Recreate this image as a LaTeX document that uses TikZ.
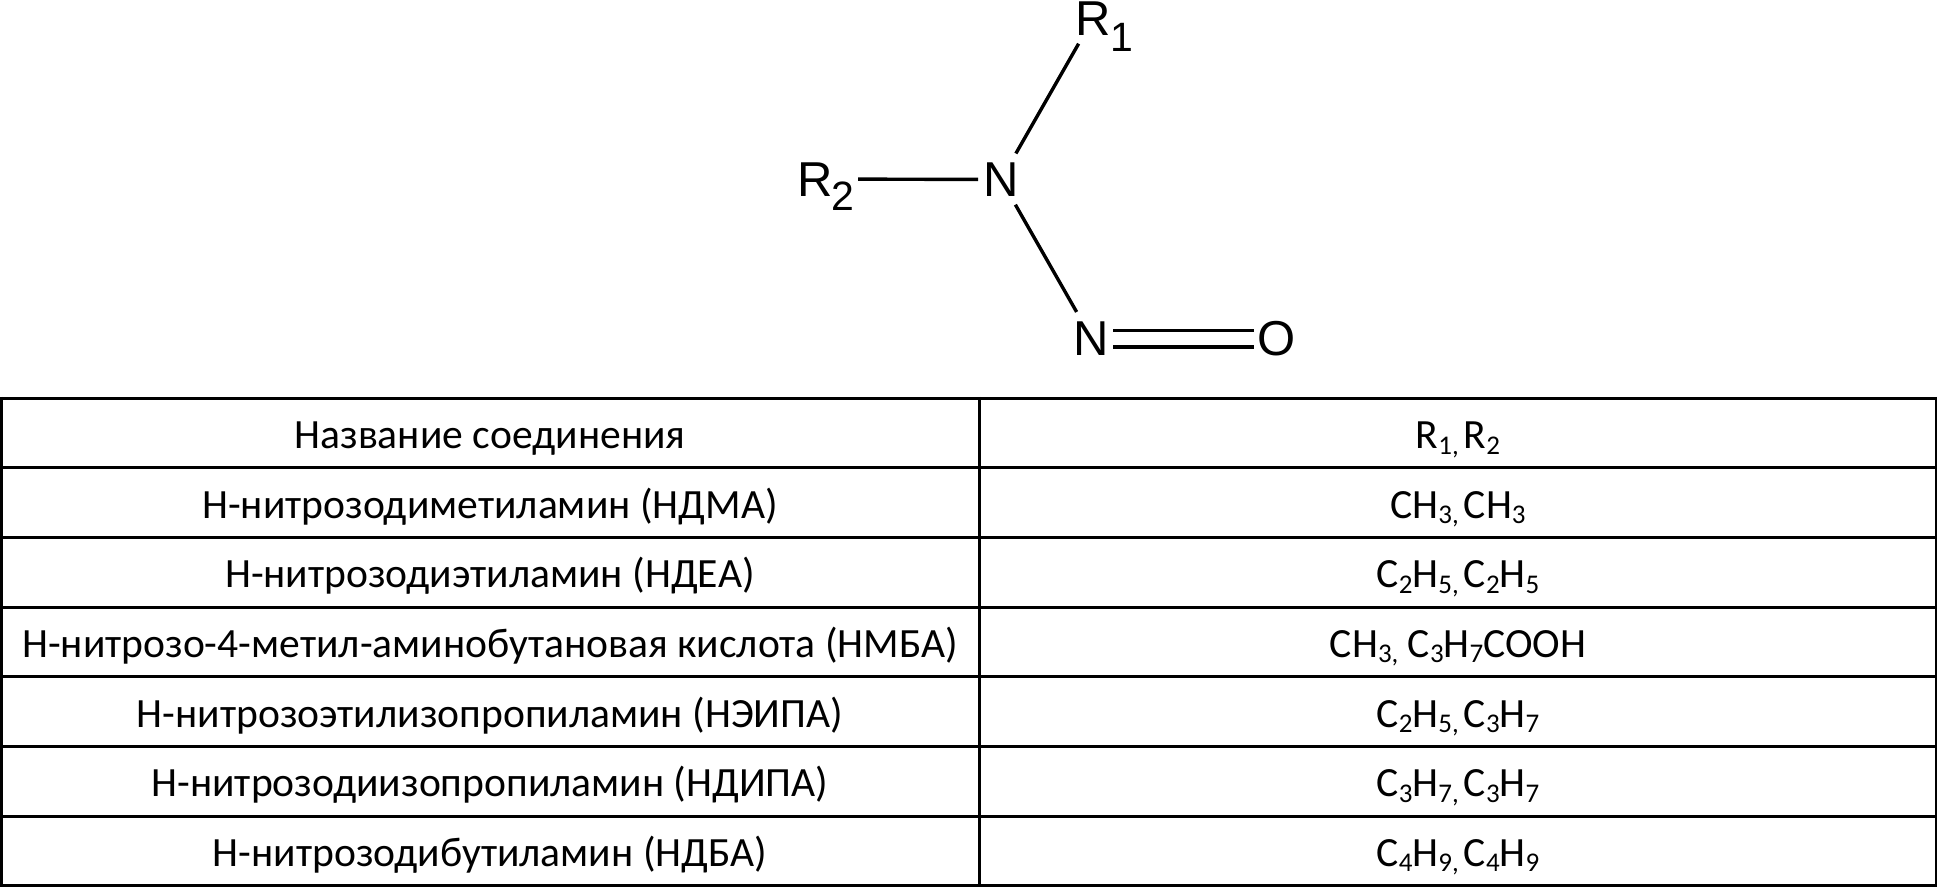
\documentclass[tikz,border=0pt]{standalone}
\usepackage{fontspec}
\setmainfont{Carlito}
\newfontfamily\chemfont{Liberation Sans}
\newcommand{\lowsub}[1]{\raisebox{-5.5pt}{\fontsize{27}{27}\selectfont #1}}
\tikzset{
  atom/.style={inner sep=0pt,text height=34pt,text depth=0pt,font=\chemfont\fontsize{49}{49}\selectfont},
  atomsub/.style={inner sep=0pt,anchor=base west,font=\chemfont\fontsize{41}{41}\selectfont},
  bond/.style={line width=3.4pt,black},
  grid/.style={line width=2.8pt,black},
  cell/.style={inner sep=0pt,anchor=base,font=\fontsize{41.6}{42}\selectfont}
}
\begin{document}
\begin{tikzpicture}[x=1pt,y=-1pt]
\useasboundingbox (0,0) rectangle (1938,887);
% molecule
\node[atom] (n1) at (1001,179.5) {N};
\node[atom] (r1) at (1093,18.5) {R};
\node[atomsub] (r1s) at (1110,51) {1};
\node[atom] (r2) at (815,179) {R};
\node[atomsub] (r2s) at (831,210.5) {2};
\node[atom] (n2) at (1091.5,338) {N};
\node[atom] (o) at (1277,338) {O};
\draw[bond,shorten <=30pt,shorten >=29pt] (n1.center) -- (r1.center);
\draw[bond,shorten <=43pt,shorten >=23pt] (r2.center) -- (n1.center);
\draw[bond,shorten <=29pt,shorten >=30pt] (n1.center) -- (n2.center);
\draw[bond,shorten <=21.5pt,shorten >=23pt,transform canvas={yshift=7.6pt}] (n2.center) -- (o.center);
\draw[bond,shorten <=21.5pt,shorten >=23pt,transform canvas={yshift=-9pt}] (n2.center) -- (o.center);
% table grid
\foreach \yy in {398.2,467.8,537.5,607.3,676.7,746.4,816.2,885.6}
  \draw[grid] (1.5,\yy) -- (1936,\yy);
\draw[grid] (1.5,396.8) -- (1.5,887);
\draw[grid] (979.6,396.8) -- (979.6,887);
\draw[grid] (1936,396.8) -- (1936,887);
% left column
\node[cell] (a0) at (490,448.5) {Название соединения};
\node[cell] (a1) at (490,518) {Н-нитрозодиметиламин (НДМА)};
\node[cell] (a2) at (490,587.5) {Н-нитрозодиэтиламин (НДЕА)};
\node[cell] (a3) at (490,657) {Н-нитрозо-4-метил-аминобутановая кислота (НМБА)};
\node[cell] (a4) at (490,727) {Н-нитрозоэтилизопропиламин (НЭИПА)};
\node[cell] (a5) at (490,796.5) {Н-нитрозодиизопропиламин (НДИПА)};
\node[cell] (a6) at (490,866) {Н-нитрозодибутиламин (НДБА)};
% right column
\node[cell] (b0) at (1458,448.5) {R\lowsub{1,}\hspace{5pt}R\lowsub{2}};
\node[cell] (b1) at (1458,518) {CH\lowsub{3,}\hspace{5pt}CH\lowsub{3}};
\node[cell] (b2) at (1458,587.5) {C\lowsub{2}H\lowsub{5,}\hspace{5pt}C\lowsub{2}H\lowsub{5}};
\node[cell] (b3) at (1458,657) {CH\lowsub{3,} C\lowsub{3}H\lowsub{7}COOH};
\node[cell] (b4) at (1458,727) {C\lowsub{2}H\lowsub{5,}\hspace{5pt}C\lowsub{3}H\lowsub{7}};
\node[cell] (b5) at (1458,796.5) {C\lowsub{3}H\lowsub{7,}\hspace{5pt}C\lowsub{3}H\lowsub{7}};
\node[cell] (b6) at (1458,866) {C\lowsub{4}H\lowsub{9,}\hspace{5pt}C\lowsub{4}H\lowsub{9}};
\end{tikzpicture}
\end{document}
